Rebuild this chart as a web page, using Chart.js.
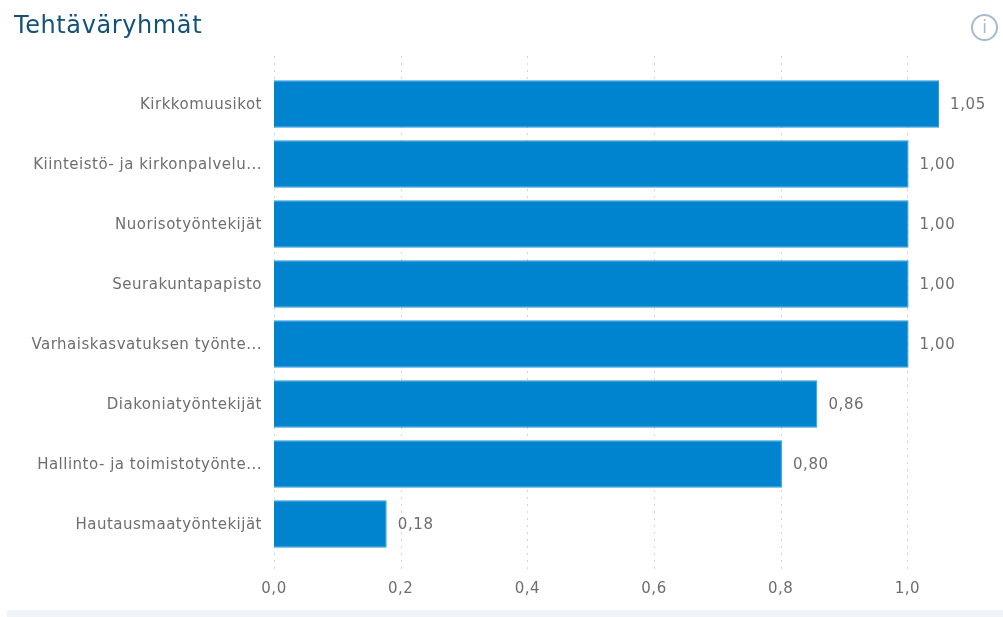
<!DOCTYPE html>
<html>
<head>
<meta charset="utf-8">
<title>Tehtäväryhmät</title>
<script src="https://cdn.jsdelivr.net/npm/chart.js@4"></script>
<style>
  html, body { margin: 0; padding: 0; background: #fff; overflow: hidden; }
  #wrap { position: relative; width: 1003px; height: 617px; }
  #mycanvas { position: absolute; left: 0; top: 0; }
  #title { position: absolute; left: 14px; top: 11px; font: 24px "DejaVu Sans", sans-serif; letter-spacing: 0.6px; color: #14527a; }
  #info { position: absolute; left: 971px; top: 14px; width: 27px; height: 27px; box-sizing: border-box;
          border: 2px solid #a5bacd; border-radius: 50%; color: #a5bacd; text-align: center;
          font: 17px/23px "DejaVu Sans", sans-serif; }
  #band { position: absolute; left: 7px; top: 610px; width: 996px; height: 7px; background: #f0f4f9; }
</style>
</head>
<body>
<div id="wrap">
  <canvas id="mycanvas" width="1003" height="617"></canvas>
  <div id="title">Tehtäväryhmät</div>
  <div id="info">i</div>
  <div id="band"></div>
</div>
<script>
var categories = [
  "Kirkkomuusikot",
  "Kiinteistö- ja kirkonpalvelu...",
  "Nuorisotyöntekijät",
  "Seurakuntapapisto",
  "Varhaiskasvatuksen työnte...",
  "Diakoniatyöntekijät",
  "Hallinto- ja toimistotyönte...",
  "Hautausmaatyöntekijät"
];
var values = [1.05, 1.002, 1.002, 1.002, 1.002, 0.858, 0.802, 0.178];
var xTicks = [0, 0.2, 0.4, 0.6, 0.8, 1.0];

var textColor = "#6e6e6e";
var fontFamily = '"DejaVu Sans", sans-serif';

function comma(v, decimals) {
  return v.toFixed(decimals).replace(".", ",");
}

// labels in the picture are spaced a bit wider than DejaVu
var wideText = {
  id: "wideText",
  beforeDraw: function(chart) {
    chart.ctx.letterSpacing = "0.5px";
  }
};

// dotted grid runs past the category bands, so it is drawn here and not by the scale
var dottedGrid = {
  id: "dottedGrid",
  beforeDatasetsDraw: function(chart) {
    var c = chart.ctx, x = chart.scales.x, area = chart.chartArea;
    c.save();
    c.strokeStyle = "#d4d4d4";
    c.lineWidth = 1;
    c.setLineDash([2, 5]);
    x.ticks.forEach(function(t) {
      var px = Math.round(x.getPixelForValue(t.value)) + 0.5;
      c.beginPath();
      c.moveTo(px, area.top - 18);
      c.lineTo(px, area.bottom + 20);
      c.stroke();
    });
    c.restore();
  }
};

var valueLabels = {
  id: "valueLabels",
  afterDatasetsDraw: function(chart) {
    var c = chart.ctx;
    c.save();
    c.fillStyle = textColor;
    c.font = "15px " + fontFamily;
    c.letterSpacing = "0.6px";
    c.textBaseline = "middle";
    chart.getDatasetMeta(0).data.forEach(function(bar, i) {
      c.fillText(comma(values[i], 2), bar.x + 11, bar.y + 1);
    });
    c.restore();
  }
};

var LineGraph = new Chart(document.getElementById("mycanvas"), {
  type: "bar",
  plugins: [wideText, dottedGrid, valueLabels],
  data: {
    labels: categories,
    datasets: [{
      data: values,
      backgroundColor: "#0084d0",
      borderColor: "#2f9ada",
      borderWidth: 1,
      categoryPercentage: 1,
      barPercentage: 0.79
    }]
  },
  options: {
    indexAxis: "y",
    responsive: false,
    animation: false,
    layout: { padding: { top: 74, right: 64, bottom: 20, left: 0 } },
    plugins: {
      legend: { display: false },
      tooltip: { enabled: false }
    },
    scales: {
      x: {
        min: 0,
        max: 1.05,
        grid: { display: false },
        border: { display: false },
        afterFit: function(scale) { scale.height = 43; },
        afterBuildTicks: function(scale) {
          scale.ticks = xTicks.map(function(v) { return { value: v }; });
        },
        ticks: {
          padding: 18,
          color: textColor,
          font: { family: fontFamily, size: 15 },
          maxRotation: 0,
          callback: function(v) { return comma(v, 1); }
        }
      },
      y: {
        grid: { display: false },
        border: { display: false },
        afterFit: function(scale) { scale.width = 274; },
        ticks: {
          autoSkip: false,
          padding: 4,
          labelOffset: 1,
          color: textColor,
          font: { family: fontFamily, size: 15 }
        }
      }
    }
  }
});
</script>
</body>
</html>
